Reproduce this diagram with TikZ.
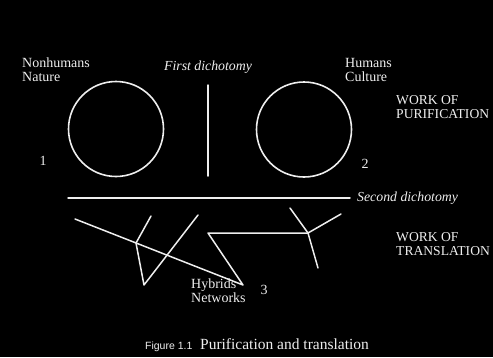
\documentclass[tikz,border=0pt]{standalone}
\usepackage{fontspec}
\setmainfont{Liberation Serif}
\setsansfont{Liberation Sans}
\usepackage{tikz}
\usetikzlibrary{positioning}

\definecolor{ink}{HTML}{EEEEEE}

\begin{document}
\begin{tikzpicture}[x=1pt, y=-1pt,
    every node/.style={text=ink, font=\fontsize{14}{14}\selectfont, inner sep=0pt, align=left},
    pole/.style={draw=ink, line width=1.6pt, circle, minimum size=95pt},
    strand/.style={draw=ink, line width=1.5pt, line join=round, line cap=round},
    dich/.style={font=\fontsize{13.8}{14}\selectfont\itshape},
    work/.style={anchor=base west, font=\fontsize{13.6}{14}\selectfont}]
    \fill[black] (0,0) rectangle (493,357);
    \useasboundingbox (0,0) rectangle (493,357);

    % the two poles
    \node[pole] (nature) at (116,129) {};
    \node[pole] (culture) at (304,129.5) {};
    \node[anchor=base west] (nonhumans) at (22,81.5) {Nonhumans\\Nature};
    \node[anchor=base west] (humans) at (345,81.5) {Humans\\Culture};
    \node[anchor=base] (one) at (43,165) {1};
    \node[anchor=base] (two) at (365,168) {2};
    \node[work] (purif) at (396,118) {WORK OF\\PURIFICATION};

    % first dichotomy
    \coordinate (fdtop) at (208,85);
    \coordinate (fdbot) at (208,176);
    \draw[strand] (fdtop) -- (fdbot);
    \node[dich, above=11pt of fdtop] (first) {First dichotomy};

    % second dichotomy
    \coordinate (sdleft) at (68,198);
    \coordinate (sdright) at (350,198);
    \draw[strand] (sdleft) -- (sdright);
    \node[dich, right=7pt of sdright] (second) {Second dichotomy};

    % the hybrid networks
    \coordinate (ha) at (75,219);
    \coordinate (hb) at (243,285);
    \coordinate (hc) at (208,233);
    \coordinate (hj) at (308,233);
    \coordinate (hp) at (290,208);
    \coordinate (hq) at (341,214);
    \coordinate (hr) at (318,268);
    \coordinate (wa) at (151,216);
    \coordinate (wj) at (136,243);
    \coordinate (wb) at (144,285);
    \coordinate (wc) at (198,215);
    \draw[strand] (ha) -- (hb) -- (hc) -- (hj);
    \draw[strand] (hp) -- (hj) -- (hq);
    \draw[strand] (hj) -- (hr);
    \draw[strand] (wa) -- (wj) -- (wb) -- (wc);

    \node[anchor=base west] (hybrids) at (191,302.5) {Hybrids\\Networks};
    \node[anchor=base] (three) at (264,294) {3};
    \node[work] (transl) at (396,255) {WORK OF\\TRANSLATION};

    \node[anchor=base, font=\fontsize{15.5}{17}\selectfont] (caption) at (257,349)
        {{\fontsize{10.5}{12}\sffamily Figure 1.1}\enspace Purification and translation};
\end{tikzpicture}
\end{document}
